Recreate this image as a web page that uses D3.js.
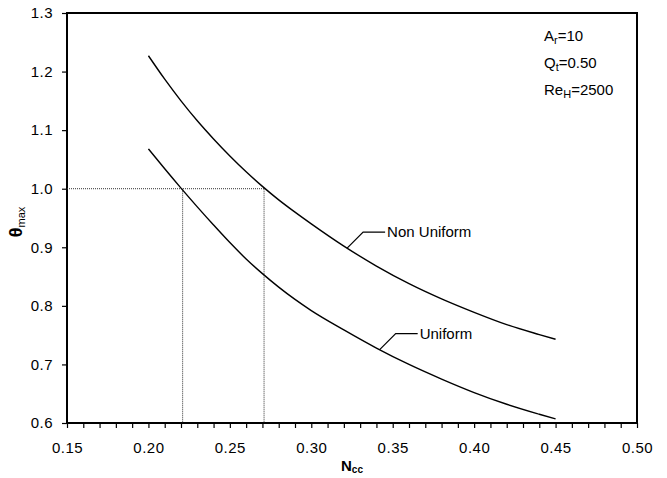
<!DOCTYPE html>
<html>
<head>
<meta charset="utf-8">
<script src="https://cdn.jsdelivr.net/npm/d3@7"></script>
<style>
    body { margin: 0; background: #fff; }
    text { font-family: "Liberation Sans", Arial, sans-serif; fill: #000; }
</style>
</head>
<body>
<div id="chart"></div>
<script>

// N_cc values along the curves
let nccValues = [0.20, 0.21, 0.22, 0.23, 0.24, 0.25, 0.26, 0.27, 0.28, 0.29, 0.30,
    0.32, 0.34, 0.36, 0.38, 0.40, 0.42, 0.44, 0.45];

// theta_max, non uniform case
let nonUniform = [1.227, 1.187, 1.150, 1.116, 1.085, 1.056, 1.029, 1.004, 0.981, 0.960, 0.940,
    0.902, 0.868, 0.838, 0.812, 0.789, 0.768, 0.751, 0.743];

// theta_max, uniform case
let uniform = [1.068, 1.034, 1.001, 0.969, 0.938, 0.908, 0.880, 0.855, 0.832, 0.811, 0.792,
    0.759, 0.728, 0.700, 0.675, 0.652, 0.632, 0.615, 0.607];

// guide lines at theta_max = 1.0
let guideY = 1.0;
let guideX = [0.221, 0.271];

let xTicks = [0.15, 0.20, 0.25, 0.30, 0.35, 0.40, 0.45, 0.50];
let yTicks = [0.6, 0.7, 0.8, 0.9, 1.0, 1.1, 1.2, 1.3];


class ThetaChart {

    constructor(parentElement) {
        this.parentElement = parentElement;
        this.initVis();
    }

    initVis() {
        let vis = this;
        vis.margin = {top: 13, right: 30, bottom: 55, left: 67};
        vis.width = 667 - vis.margin.left - vis.margin.right;
        vis.height = 478 - vis.margin.top - vis.margin.bottom;

        vis.svg = d3.select("#" + vis.parentElement).append("svg")
            .attr("width", 667)
            .attr("height", 478)
            .append("g")
            .attr("transform", `translate(${vis.margin.left}, ${vis.margin.top})`);

        vis.x = d3.scaleLinear().domain([0.15, 0.50]).range([0, vis.width]);
        vis.y = d3.scaleLinear().domain([0.6, 1.3]).range([vis.height, 0]);

        // x axis: minor ticks every 0.01, labels every 0.05
        let minor = d3.range(15, 51).map(d => d / 100);
        vis.xAxis = d3.axisBottom(vis.x)
            .tickValues(minor)
            .tickSize(5)
            .tickPadding(14)
            .tickFormat(d => xTicks.some(t => Math.abs(t - d) < 1e-6) ? d3.format(".2f")(d) : "");

        vis.yAxis = d3.axisLeft(vis.y)
            .tickValues(yTicks)
            .tickSize(5)
            .tickPadding(9)
            .tickFormat(d3.format(".1f"));

        vis.svg.append("g")
            .attr("class", "axis x-axis")
            .attr("transform", `translate(0, ${vis.height})`)
            .call(vis.xAxis);
        vis.svg.append("g")
            .attr("class", "axis y-axis")
            .call(vis.yAxis);

        vis.svg.selectAll(".axis .domain").remove();
        vis.svg.selectAll(".axis line").attr("stroke", "#000").attr("stroke-width", 1.2);
        vis.svg.selectAll(".axis text")
            .attr("font-size", "15px")
            .attr("letter-spacing", "0.5px")
            .style("font-family", "'Liberation Sans', Arial, sans-serif")
            .attr("fill", "#000");

        // frame
        vis.svg.append("rect")
            .attr("width", vis.width)
            .attr("height", vis.height)
            .attr("fill", "none")
            .attr("stroke", "#000")
            .attr("stroke-width", 2);

        // axis labels
        let yl = vis.svg.append("text")
            .attr("transform", `translate(-45, ${vis.y(0.95) + 4}) rotate(-90)`)
            .attr("text-anchor", "middle")
            .attr("font-size", "18px");
        yl.append("tspan").text("θ").attr("font-weight", "bold");
        yl.append("tspan").text("max").attr("font-size", "11px").attr("dy", 3);

        let xl = vis.svg.append("text")
            .attr("x", vis.width / 2)
            .attr("y", vis.height + 48)
            .attr("text-anchor", "middle")
            .attr("font-size", "15px")
            .attr("font-weight", "bold");
        xl.append("tspan").text("N");
        xl.append("tspan").text("cc").attr("font-size", "10px").attr("dy", 2);

        vis.updateVis();
    }

    updateVis() {
        let vis = this;

        // dotted guides
        let dots = vis.svg.append("g")
            .attr("stroke", "#333")
            .attr("stroke-width", 1)
            .attr("stroke-dasharray", "1,1");
        dots.append("line")
            .attr("x1", vis.x(0.15)).attr("x2", vis.x(guideX[1]))
            .attr("y1", vis.y(guideY)).attr("y2", vis.y(guideY));
        dots.selectAll(".vguide")
            .data(guideX)
            .enter().append("line")
            .attr("class", "vguide")
            .attr("x1", d => vis.x(d)).attr("x2", d => vis.x(d))
            .attr("y1", vis.y(guideY)).attr("y2", vis.y(0.6));

        let line = d3.line()
            .x(d => vis.x(d[0]))
            .y(d => vis.y(d[1]))
            .curve(d3.curveMonotoneX);

        [nonUniform, uniform].forEach(series => {
            vis.svg.append("path")
                .datum(nccValues.map((n, i) => [n, series[i]]))
                .attr("fill", "none")
                .attr("stroke", "#000")
                .attr("stroke-width", 1.4)
                .attr("d", line);
        });

        // curve labels with leader lines
        let labels = [
            {name: "Non Uniform", at: 0.322, vals: nonUniform},
            {name: "Uniform", at: 0.342, vals: uniform}
        ];
        labels.forEach(l => {
            let i = d3.bisectLeft(nccValues, l.at);
            let t = (l.at - nccValues[i - 1]) / (nccValues[i] - nccValues[i - 1]);
            let v = l.vals[i - 1] + t * (l.vals[i] - l.vals[i - 1]);
            let px = vis.x(l.at), py = vis.y(v);
            vis.svg.append("polyline")
                .attr("points", `${px},${py} ${px + 16},${py - 16} ${px + 38},${py - 16}`)
                .attr("fill", "none")
                .attr("stroke", "#000")
                .attr("stroke-width", 1.2);
            vis.svg.append("text")
                .attr("x", px + 40)
                .attr("y", py - 16)
                .attr("dy", "0.35em")
                .attr("font-size", "15px")
                .text(l.name);
        });

        // parameter box
        let params = [["A", "r", "=10"], ["Q", "t", "=0.50"], ["Re", "H", "=2500"]];
        params.forEach((p, i) => {
            let t = vis.svg.append("text")
                .attr("x", 544 - vis.margin.left)
                .attr("y", 36 - vis.margin.top + i * 27)
                .attr("dy", "0.35em")
                .attr("font-size", "15px");
            t.append("tspan").text(p[0]);
            t.append("tspan").text(p[1]).attr("font-size", "11px").attr("dy", 3);
            t.append("tspan").text(p[2]).attr("dy", -3);
        });
    }
}

new ThetaChart("chart");
</script>
</body>
</html>
